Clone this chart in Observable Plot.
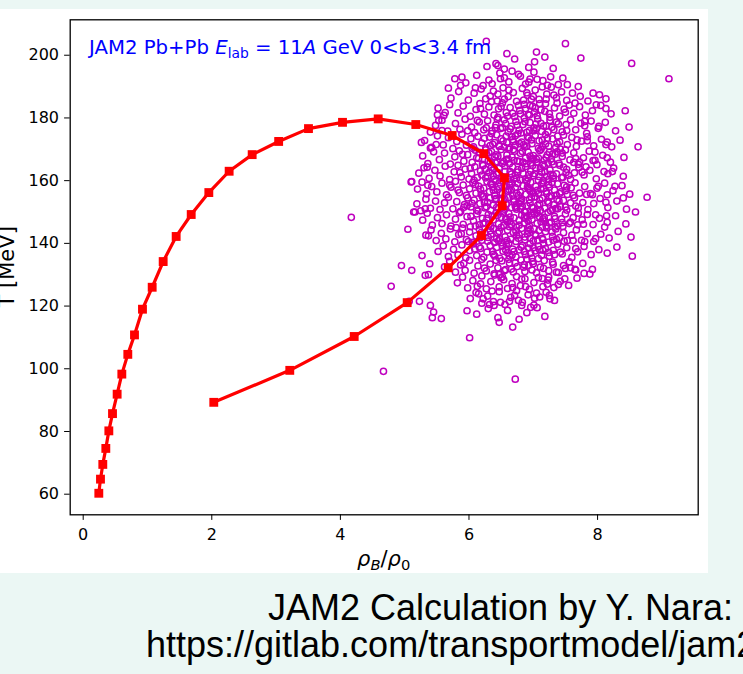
<!DOCTYPE html>
<html><head><meta charset="utf-8">
<script src="https://cdn.jsdelivr.net/npm/d3@7"></script>
<script src="https://cdn.jsdelivr.net/npm/@observablehq/plot@0.6"></script>
<style>
html,body{margin:0;padding:0;}
body{width:743px;height:674px;background:#ebf7f4;position:relative;overflow:hidden;}
#panel{position:absolute;left:0;top:9px;width:708px;height:564px;background:#fff;}
.cap{position:absolute;font-family:"Liberation Sans",Arial,sans-serif;font-size:36px;color:#000;white-space:nowrap;line-height:1;}
</style></head><body>
<div id="panel"></div>
<div class="cap" style="left:268px;top:589.5px">JAM2 Calculation by Y. Nara:</div>
<div class="cap" style="left:146px;top:626.5px">https://gitlab.com/transportmodel/jam2</div>
<script>
// ---- data ----
const xTicks = [0, 2, 4, 6, 8];
const yTicks = [60, 80, 100, 120, 140, 160, 180, 200];

// JAM2 trajectory (red squares + line)
const rhoTrack = [0.243,0.269,0.305,0.352,0.399,0.456,0.528,0.601,0.694,0.798,0.922,1.073,1.244,1.446,1.680,1.954,2.27,2.628,3.04,3.504,4.033,4.588,5.173,5.739,6.23,6.552,6.516,6.194,5.677,5.039,4.215,3.213,2.031];
const tTrack = [60.3,64.8,69.5,74.6,80.2,85.7,91.9,98.3,104.6,110.8,119.0,126.0,134.2,142.2,149.2,156.2,163.0,168.3,172.5,176.6,178.6,179.7,177.9,174.4,168.6,160.9,152.0,142.5,132.2,121.1,110.3,99.5,89.3];

// event-by-event points (open magenta circles), [rho/rho0, T]
const cloudHalo = [[6.27,204.4],[7.50,203.7],[6.59,200.5],[7.05,201.0],[7.74,199.1],[8.53,197.4],[9.11,192.5],[6.45,196.7],[6.67,194.9],[6.80,193.3],[5.89,193.0],[5.68,189.5],[5.87,190.4],[6.10,189.6],[6.36,190.9],[6.49,192.5],[6.93,191.4],[7.06,192.3],[7.22,190.4],[7.53,190.6],[7.70,190.0],[7.93,187.9],[8.03,187.4],[8.13,186.1],[7.98,184.2],[8.13,183.0],[8.43,182.3],[8.02,177.3],[8.49,177.1],[7.80,177.5],[8.15,172.3],[8.13,171.5],[8.63,170.8],[7.84,172.7],[7.96,169.1],[8.15,167.3],[7.93,166.4],[7.99,165.1],[8.23,162.9],[8.16,162.2],[8.27,158.2],[8.40,154.5],[8.77,154.7],[8.15,155.5],[8.13,153.1],[8.59,150.0],[8.14,148.8],[8.11,145.2],[8.52,142.0],[8.54,135.9],[7.92,131.7],[7.79,130.4],[7.49,128.7],[7.39,126.9],[7.25,123.4],[7.26,122.3],[4.17,148.3],[4.67,99.2],[6.72,96.7],[6.01,109.9],[6.47,114.8],[6.68,113.3],[4.79,126.3],[4.95,132.9],[5.11,131.4],[5.05,144.5],[5.10,159.6],[5.23,121.5],[5.26,172.2],[5.40,170.4],[5.37,142.4],[5.27,136.1],[5.39,133.5],[5.14,150.0],[5.35,164.3],[5.36,158.5],[5.32,151.0],[5.32,129.8],[5.40,120.2],[5.45,118.1],[5.57,116.0],[5.43,116.3],[5.97,118.5],[6.15,123.9],[6.22,122.3],[6.32,120.5],[6.39,120.2],[6.49,121.2],[6.77,121.8],[6.82,120.2],[6.96,119.6],[7.02,122.5],[5.51,181.0],[5.63,181.7],[5.53,179.2],[5.40,175.5],[5.58,176.0],[5.49,171.5],[5.11,159.7],[5.16,150.0],[5.07,121.5],[5.37,130.0],[7.97,149.1],[7.92,155.5],[8.01,158.2],[7.76,162.7],[7.72,165.9],[7.80,140.6],[7.97,141.5],[7.65,131.7],[7.58,132.2],[7.36,130.8],[7.24,129.2]];

const cloudBands = [[6.42,197.3],[6.71,198.8],[6.93,196.1],[7.18,199.4],[6.55,195.6],[7.02,197.9],[6.28,196.4],[7.31,195.8],
[5.95,191.2],[6.12,193.6],[6.31,192.1],[6.48,194.3],[6.62,191.5],[6.77,193.9],[6.88,190.8],[7.01,194.6],[7.15,191.9],[7.27,193.1],[7.39,190.6],[6.22,190.3],[6.55,192.8],[6.95,192.4],[7.46,192.7],[5.78,192.5],
[5.72,186.3],[5.84,188.4],[5.99,185.7],[6.08,187.9],[6.19,189.2],[6.26,186.1],[6.38,188.6],[6.44,185.4],[6.53,189.6],[6.61,186.8],[6.69,188.1],[6.74,185.3],[6.83,189.4],[6.91,187.2],[7.03,188.9],[7.09,185.9],[7.21,187.6],[7.28,189.8],[7.36,186.4],[7.44,188.3],[7.52,185.6],[7.61,187.9],[7.73,186.9],[6.33,187.0],[6.97,186.0],[7.14,189.9],[7.85,185.4],
[5.52,183.1],[5.61,180.8],[5.70,184.2],[5.83,181.6],[5.91,183.8],[6.02,180.5],[6.11,182.7],[6.17,184.6],[6.24,181.2],[6.31,183.5],[6.39,180.9],[6.46,182.9],[6.52,184.8],[6.58,181.7],[6.64,183.3],[6.71,180.4],[6.79,182.4],[6.86,184.3],[6.92,181.1],[6.99,183.7],[7.06,180.7],[7.12,182.6],[7.19,184.5],[7.25,181.4],[7.33,183.2],[7.41,180.6],[7.48,182.8],[7.56,184.1],[7.63,181.5],[7.72,183.6],[7.81,180.9],[7.92,182.3],[8.05,184.0],[8.21,181.3],[6.45,180.2],[6.88,183.0],[7.02,181.9],[7.37,184.7],
[5.48,177.6],[5.58,179.3],[5.67,175.8],[5.79,178.2],[5.86,176.4],[5.94,179.6],[6.04,177.1],[6.09,175.3],[6.16,178.7],[6.23,176.2],[6.29,179.1],[6.36,175.9],[6.42,177.8],[6.49,176.6],[6.55,179.4],[6.61,175.5],[6.66,177.3],[6.73,178.9],[6.78,176.1],[6.84,177.9],[6.9,175.4],[6.95,178.5],[7.01,176.8],[7.07,179.7],[7.13,175.7],[7.2,177.5],[7.26,179.2],[7.32,176.3],[7.39,178.1],[7.45,175.6],[7.51,177.9],[7.58,179.4],[7.66,176.2],[7.74,178.3],[7.83,175.1],[7.9,179.0],[8.01,176.7],[8.12,178.6],[8.28,175.9],[6.52,176.9],[6.81,175.2],[7.04,178.0],[7.29,177.0],
[5.31,172.8],[5.42,170.6],[5.51,174.3],[5.6,171.4],[5.68,173.7],[5.75,170.2],[5.81,172.5],[5.89,174.8],[5.96,171.3],[6.03,173.4],[6.07,170.8],[6.14,174.1],[6.2,172.0],[6.26,170.4],[6.32,173.9],[6.37,171.6],[6.43,174.6],[6.47,170.9],[6.53,172.7],[6.58,174.2],[6.63,170.5],[6.68,173.1],[6.72,171.2],[6.76,174.9],[6.82,172.3],[6.87,170.7],[6.93,173.6],[6.98,171.8],[7.03,174.4],[7.08,170.3],[7.14,172.9],[7.19,174.7],[7.24,171.0],[7.3,173.3],[7.35,170.6],[7.41,172.4],[7.47,174.5],[7.53,171.5],[7.6,173.8],[7.67,170.9],[7.75,172.6],[7.84,174.0],[7.94,171.1],[8.06,173.2],[8.22,170.8],[8.35,172.9],[6.4,172.1],[6.9,171.0],[7.12,170.0],[6.66,174.0],[7.38,174.2],
[5.28,167.9],[5.36,165.4],[5.45,169.2],[5.54,166.7],[5.62,168.8],[5.71,165.3],[5.78,167.6],[5.85,169.5],[5.92,166.2],[5.98,168.3],[6.05,165.8],[6.1,169.7],[6.15,167.1],[6.21,165.2],[6.27,168.6],[6.3,166.4],[6.35,169.3],[6.41,165.7],[6.45,167.8],[6.5,169.9],[6.54,166.1],[6.59,168.2],[6.63,165.4],[6.67,167.5],[6.71,169.4],[6.75,166.3],[6.8,168.7],[6.84,165.9],[6.88,167.2],[6.92,169.1],[6.96,165.6],[7.0,168.0],[7.05,166.8],[7.1,169.6],[7.15,165.1],[7.2,167.4],[7.25,169.0],[7.29,166.0],[7.34,168.4],[7.4,165.5],[7.45,167.7],[7.5,169.8],[7.57,166.6],[7.63,168.9],[7.7,165.2],[7.78,167.3],[7.87,169.4],[7.96,166.5],[8.08,168.1],[8.2,165.9],[8.41,167.4],[6.62,170.0],[6.98,166.9],[7.22,168.2],[6.44,166.0],
[5.22,162.4],[5.3,164.1],[5.38,160.7],[5.47,163.3],[5.55,161.5],[5.63,164.6],[5.7,160.3],[5.77,162.8],[5.83,164.9],[5.88,161.2],[5.94,163.7],[6.0,160.5],[6.04,162.3],[6.09,164.4],[6.13,161.0],[6.18,163.1],[6.22,164.8],[6.26,160.9],[6.31,162.6],[6.35,164.2],[6.39,160.4],[6.43,162.0],[6.47,163.9],[6.51,161.3],[6.56,164.7],[6.6,160.6],[6.64,162.9],[6.68,164.3],[6.72,161.7],[6.76,163.5],[6.8,160.2],[6.84,162.4],[6.88,164.5],[6.92,160.8],[6.96,163.0],[7.0,161.6],[7.04,164.0],[7.08,160.1],[7.13,162.7],[7.17,164.6],[7.21,161.4],[7.26,163.4],[7.31,160.7],[7.36,162.2],[7.41,164.9],[7.46,161.1],[7.52,163.6],[7.58,160.4],[7.64,162.5],[7.71,164.2],[7.79,161.8],[7.88,163.3],[7.98,160.6],[8.1,162.9],[8.25,164.0],[8.4,161.4],[6.7,160.5],[6.99,164.8],[7.24,160.3],[6.53,160.0],[7.11,163.9],
[5.2,157.3],[5.27,159.5],[5.34,155.8],[5.42,158.1],[5.5,156.4],[5.58,159.2],[5.65,155.5],[5.72,157.9],[5.79,159.8],[5.85,156.2],[5.91,158.6],[5.96,155.3],[6.01,157.4],[6.06,159.4],[6.11,156.0],[6.15,158.3],[6.19,155.7],[6.23,157.6],[6.28,159.7],[6.32,156.5],[6.36,158.8],[6.4,155.2],[6.44,157.1],[6.48,159.3],[6.52,155.9],[6.56,158.0],[6.6,156.7],[6.64,159.6],[6.68,155.4],[6.72,157.8],[6.76,159.1],[6.8,156.3],[6.84,158.4],[6.88,155.6],[6.92,157.5],[6.96,159.5],[7.0,156.1],[7.04,158.2],[7.08,155.8],[7.12,157.3],[7.16,159.9],[7.2,156.6],[7.24,158.7],[7.28,155.1],[7.33,157.0],[7.38,159.0],[7.43,156.4],[7.48,158.5],[7.53,155.6],[7.59,157.7],[7.65,159.3],[7.72,156.0],[7.8,158.1],[7.89,155.9],[7.99,157.6],[8.11,159.2],[8.24,156.8],[8.38,158.4],[8.5,155.7],[6.42,159.9],[6.74,156.0],[6.9,159.8],[7.06,156.9],[7.36,155.4],[6.62,157.2],
[5.19,152.6],[5.25,150.4],[5.33,154.1],[5.4,151.2],[5.48,153.5],[5.55,150.8],[5.62,152.9],[5.68,154.7],[5.75,151.0],[5.81,153.3],[5.87,150.2],[5.93,152.4],[5.98,154.5],[6.03,151.6],[6.08,153.8],[6.12,150.6],[6.17,152.7],[6.21,154.9],[6.25,151.3],[6.29,153.1],[6.34,150.5],[6.38,152.2],[6.42,154.3],[6.46,151.1],[6.5,153.6],[6.54,150.3],[6.58,152.5],[6.62,154.6],[6.66,151.4],[6.7,153.2],[6.74,150.9],[6.78,152.8],[6.82,154.2],[6.86,150.1],[6.9,152.0],[6.94,153.9],[6.98,151.5],[7.02,154.8],[7.06,150.7],[7.1,152.6],[7.14,154.4],[7.18,151.2],[7.22,153.4],[7.27,150.4],[7.32,152.3],[7.37,154.0],[7.42,151.7],[7.47,153.7],[7.52,150.6],[7.58,152.9],[7.64,154.5],[7.7,151.3],[7.77,153.0],[7.85,150.8],[7.94,152.7],[8.04,154.3],[8.16,151.4],[8.3,153.5],[8.45,150.9],[6.56,154.0],[6.8,151.0],[7.0,150.0],[7.25,154.8],[6.33,154.5],[6.95,152.9],
[5.28,147.4],[5.35,149.6],[5.43,145.8],[5.51,148.2],[5.58,146.3],[5.65,149.1],[5.72,145.5],[5.79,147.7],[5.85,149.8],[5.91,146.1],[5.97,148.5],[6.02,145.3],[6.07,147.2],[6.12,149.4],[6.16,145.9],[6.21,148.0],[6.25,146.6],[6.3,149.2],[6.34,145.4],[6.38,147.5],[6.42,149.7],[6.46,146.2],[6.5,148.3],[6.54,145.7],[6.58,147.9],[6.62,149.5],[6.66,146.0],[6.7,148.1],[6.74,145.2],[6.78,147.3],[6.82,149.0],[6.86,146.5],[6.9,148.7],[6.94,145.6],[6.98,147.6],[7.02,149.3],[7.06,146.4],[7.1,148.4],[7.14,145.1],[7.18,147.1],[7.23,149.9],[7.28,146.8],[7.33,148.6],[7.38,145.5],[7.44,147.8],[7.5,149.4],[7.56,146.3],[7.62,148.2],[7.69,145.9],[7.76,147.5],[7.84,149.2],[7.93,146.0],[8.03,148.0],[8.15,146.7],[8.28,148.8],[8.44,146.2],[6.64,147.0],[6.88,150.0],[7.12,146.9],[6.44,148.9],
[5.33,142.6],[5.41,144.3],[5.49,140.9],[5.57,143.2],[5.64,141.4],[5.71,144.6],[5.78,140.5],[5.84,142.8],[5.9,144.9],[5.96,141.2],[6.01,143.6],[6.06,140.3],[6.11,142.4],[6.16,144.5],[6.2,141.0],[6.25,143.3],[6.29,140.7],[6.34,142.9],[6.38,144.7],[6.43,141.5],[6.47,143.8],[6.51,140.2],[6.56,142.1],[6.6,144.2],[6.65,141.3],[6.69,143.5],[6.73,140.6],[6.78,142.7],[6.82,144.8],[6.87,141.1],[6.91,143.0],[6.95,144.4],[7.0,140.8],[7.04,142.5],[7.09,144.1],[7.14,141.6],[7.19,143.7],[7.24,140.4],[7.3,142.2],[7.35,144.6],[7.41,141.8],[7.47,143.4],[7.53,140.9],[7.6,142.6],[7.67,144.3],[7.75,141.0],[7.84,143.1],[7.94,140.6],[8.05,142.9],[8.18,141.7],[8.32,143.8],[6.62,140.0],[6.92,145.0],[7.16,140.0],[6.4,140.3],
[5.52,137.4],[5.6,139.2],[5.68,135.8],[5.76,138.1],[5.83,136.3],[5.89,139.5],[5.95,135.4],[6.01,137.7],[6.07,139.8],[6.12,136.1],[6.18,138.4],[6.23,135.6],[6.28,137.2],[6.33,139.3],[6.38,136.5],[6.43,138.7],[6.48,135.2],[6.53,137.5],[6.58,139.6],[6.63,136.0],[6.68,138.2],[6.73,135.7],[6.78,137.9],[6.83,139.4],[6.88,136.4],[6.93,138.5],[6.98,135.3],[7.03,137.6],[7.08,139.1],[7.13,136.2],[7.19,138.3],[7.25,135.9],[7.31,137.8],[7.38,139.7],[7.45,136.6],[7.52,138.6],[7.6,135.5],[7.69,137.3],[7.79,139.0],[7.9,136.4],[8.02,138.0],[8.15,136.9],[8.3,138.8],[6.6,137.0],[6.95,139.9],
[5.62,132.5],[5.7,134.3],[5.79,130.8],[5.87,133.1],[5.94,131.4],[6.01,134.6],[6.08,130.5],[6.14,132.8],[6.2,134.9],[6.27,131.2],[6.33,133.4],[6.39,130.3],[6.45,132.2],[6.51,134.4],[6.57,131.6],[6.63,133.7],[6.69,130.9],[6.75,132.6],[6.81,134.7],[6.87,131.0],[6.93,133.0],[6.99,134.2],[7.05,130.6],[7.11,132.4],[7.17,134.5],[7.24,131.3],[7.31,133.3],[7.39,130.7],[7.47,132.9],[7.56,134.1],[7.66,131.5],[7.77,133.6],[7.88,130.2],[6.47,130.0],[6.9,135.0],
[5.82,127.4],[5.9,129.2],[5.98,125.8],[6.06,128.1],[6.13,126.3],[6.2,129.6],[6.27,125.5],[6.34,127.8],[6.4,129.9],[6.47,126.1],[6.54,128.4],[6.6,125.6],[6.67,127.2],[6.74,129.4],[6.8,126.5],[6.87,128.7],[6.94,125.3],[7.01,127.5],[7.08,129.1],[7.15,126.2],[7.23,128.3],[7.32,125.9],[7.42,127.9],[7.55,126.6],[7.68,128.9],
[6.02,122.4],[6.11,124.3],[6.2,120.9],[6.29,123.2],[6.38,121.4],[6.47,124.6],[6.56,120.5],[6.65,122.8],[6.74,124.9],[6.83,121.2],[6.92,123.6],[7.01,120.3],[7.1,122.9],[7.2,124.4],[7.33,121.8],
[6.12,117.4],[6.3,119.2],[6.45,116.3],[6.6,118.6],[6.78,115.8],[6.9,117.9],[7.06,119.5],[7.18,116.7]];

const cloudDense = [[6.31,168.9],[6.47,171.2],[6.58,166.8],[6.69,172.4],[6.83,169.3],[6.97,173.0],[7.08,167.2],[7.19,171.7],[7.3,168.5],[6.25,163.7],[6.38,161.4],[6.52,165.5],[6.66,162.1],[6.78,166.1],[6.93,161.9],[7.05,165.9],[7.18,162.8],[7.32,165.2],[7.44,160.9],[6.18,157.2],[6.34,159.0],[6.49,156.2],[6.63,158.6],[6.77,155.3],[6.91,158.0],[7.03,154.9],[7.16,157.5],[7.29,159.4],[7.41,155.9],[6.27,151.7],[6.41,153.9],[6.55,150.9],[6.69,154.1],[6.83,151.8],[6.97,154.6],[7.11,150.5],[7.24,152.9],[7.38,151.0],[6.22,146.3],[6.36,148.7],[6.5,145.1],[6.64,148.4],[6.78,145.8],[6.92,147.2],[7.06,149.6],[7.2,145.6],[7.34,147.9],[6.3,141.9],[6.45,143.2],[6.59,140.9],[6.73,143.9],[6.87,142.0],[7.01,144.6],[7.15,141.2],[7.29,143.6],[6.37,137.4],[6.52,139.1],[6.67,136.3],[6.81,138.8],[6.96,136.9],[7.1,138.0],[7.24,137.1],[6.41,176.9],[6.57,178.2],[6.72,174.3],[6.87,178.8],[7.01,175.9],[7.16,177.4],[6.5,183.6],[6.68,181.5],[6.85,185.7],[7.03,183.1],[7.2,186.0],[6.24,173.5],[7.45,168.8],[7.55,161.7],[7.62,155.3],[7.58,146.8],[7.48,140.7],[6.12,167.3],[6.08,160.1],[6.05,152.8],[6.1,145.5],[6.16,138.9]];

const cloudCore = [[6.35,175.0],[6.5,173.3],[6.64,176.5],[6.79,171.8],[6.94,176.0],[7.09,172.7],[7.23,175.6],[7.37,171.9],[6.26,169.8],[6.4,167.6],[6.55,170.7],[6.7,166.4],[6.85,171.4],[7.0,167.0],[7.14,170.8],[7.28,166.9],[7.42,170.1],[6.2,161.8],[6.33,165.9],[6.46,162.5],[6.61,166.9],[6.74,160.8],[6.89,165.4],[7.02,162.2],[7.17,166.5],[7.31,161.6],[7.47,164.3],[6.23,155.0],[6.37,157.9],[6.51,154.3],[6.66,157.0],[6.81,153.6],[6.95,156.8],[7.1,153.9],[7.25,157.9],[7.4,153.5],[7.52,158.0],[6.28,148.0],[6.43,151.4],[6.57,147.6],[6.72,151.9],[6.86,148.2],[7.0,151.3],[7.15,147.8],[7.3,150.8],[7.45,146.6],[6.33,144.0],[6.48,141.4],[6.63,145.3],[6.77,141.6],[6.92,144.0],[7.07,140.9],[7.21,144.9],[7.36,141.3],[6.42,134.6],[6.57,138.0],[6.72,133.8],[6.86,137.4],[7.0,133.5],[7.15,137.8],[7.3,134.0],[6.5,129.0],[6.66,131.8],[6.82,128.6],[6.98,131.5],[7.14,128.8],[6.6,180.6],[6.77,184.0],[6.94,180.9],[7.1,184.6],[7.26,180.2],[6.45,187.6],[6.9,188.0],[5.7,158.6],[5.86,162.6],[5.92,151.5],[5.8,145.0],[5.99,140.6],[6.05,170.3],[6.14,150.3],[6.19,143.4],[6.39,163.8],[6.58,152.6],[6.76,162.7],[6.97,149.0],[7.13,159.0],[7.34,145.2],[7.5,151.6],[7.42,137.2],[7.63,165.8],[7.7,149.6],[6.86,133.2],[6.68,125.9],[6.95,183.9],[6.55,186.0]];

const cloudCore2 = [[6.18,183.0],[6.35,185.2],[6.62,188.9],[6.8,181.3],[7.0,186.8],[7.18,182.1],[7.32,187.3],[7.5,181.8],[7.65,184.7],
[5.98,175.9],[6.13,179.2],[6.27,176.8],[6.44,179.6],[6.59,172.1],[6.75,177.7],[6.91,174.0],[7.05,176.6],[7.22,173.5],[7.36,178.7],[7.52,176.0],[7.68,173.0],[7.8,178.9],[6.33,171.2],[6.86,180.0],[7.12,178.3],
[5.9,168.4],[6.02,163.9],[6.16,169.0],[6.29,161.3],[6.42,168.2],[6.56,163.0],[6.69,169.9],[6.82,163.9],[6.95,167.8],[7.09,161.3],[7.23,165.6],[7.37,169.2],[7.51,162.6],[7.66,167.0],[7.82,164.4],[6.36,163.3],[6.88,160.4],[7.27,162.0],
[5.83,157.0],[5.97,152.0],[6.1,158.8],[6.24,153.0],[6.38,156.9],[6.53,151.8],[6.67,159.1],[6.8,153.2],[6.94,157.3],[7.07,152.2],[7.21,155.9],[7.35,151.1],[7.5,156.8],[7.66,151.9],[7.83,155.6],[6.46,158.2],[6.73,151.4],[7.15,159.3],
[5.88,143.1],[6.03,148.6],[6.17,141.8],[6.31,146.0],[6.46,140.8],[6.6,146.8],[6.74,142.6],[6.88,147.9],[7.03,142.9],[7.17,148.2],[7.31,141.0],[7.46,145.4],[7.62,140.9],[7.78,146.1],[6.53,149.6],[6.95,141.7],[7.25,146.5],
[5.92,133.6],[6.09,138.2],[6.24,132.1],[6.4,136.0],[6.55,131.3],[6.7,137.4],[6.85,132.4],[7.0,138.6],[7.16,132.0],[7.33,136.4],[7.5,132.0],[7.66,138.3],[6.62,134.9],[7.08,135.1],
[6.18,127.1],[6.36,124.8],[6.52,129.3],[6.71,123.4],[6.88,126.2],[7.05,124.1],[7.22,127.0],[6.63,121.5]];

// ---- chart ----
const track = rhoTrack.map((r, i) => ({rho: r, T: tTrack[i]}));
const cloud = [...cloudHalo, ...cloudBands, ...cloudDense, ...cloudCore, ...cloudCore2].map(([rho, T]) => ({rho, T}));

const W = 708, H = 564;
const chart = Plot.plot({
  width: W, height: H,
  marginLeft: 69.7, marginRight: 10.3, marginTop: 10.3, marginBottom: 58.7,
  style: {fontFamily: "'DejaVu Sans', sans-serif", fontSize: "16px", color: "#000", background: "white", overflow: "visible"},
  x: {domain: [-0.202, 9.565]},
  y: {domain: [53.43, 211.3]},
  marks: [
    Plot.dot(cloud, {x: "rho", y: "T", r: 3.1, stroke: "#bf00bf", strokeWidth: 1.5, fill: "none"}),
    Plot.line(track, {x: "rho", y: "T", stroke: "#ff0000", strokeWidth: 3.2}),
    Plot.dot(track, {x: "rho", y: "T", symbol: "square", fill: "#ff0000", r: 5}),
    Plot.axisX({ticks: xTicks, tickSize: 5.6, tickPadding: 8, label: null, fontSize: 16}),
    Plot.axisY({ticks: yTicks, tickSize: 5.6, tickPadding: 5.6, label: null, fontSize: 16}),
    Plot.frame({stroke: "#000", strokeWidth: 1.3})
  ]
});
document.getElementById("panel").appendChild(chart);

const svg = d3.select(chart);
// annotation
const ann = svg.append("text")
  .attr("x", 89).attr("y", 45.3)
  .attr("text-anchor", "start")
  .attr("fill", "#0000ff").attr("font-size", 19.7)
  .attr("font-family", "'DejaVu Sans', sans-serif")
  .style("white-space", "pre");
ann.append("tspan").text("JAM2 Pb+Pb ");
ann.append("tspan").attr("font-style", "italic").text("E");
ann.append("tspan").attr("font-size", 13.8).attr("dy", 4).text("lab");
ann.append("tspan").attr("dy", -4).text(" = 11");
ann.append("tspan").attr("font-style", "italic").text("A");
ann.append("tspan").text(" GeV 0<b<3.4 fm");

// x label
const xl = svg.append("text")
  .attr("x", 383.7).attr("y", 557)
  .attr("text-anchor", "middle").attr("font-size", 21)
  .attr("font-family", "'DejaVu Sans', sans-serif").attr("fill", "#000");
xl.append("tspan").attr("font-style", "italic").text("ρ");
xl.append("tspan").attr("font-style", "italic").attr("font-size", 14.7).attr("dy", 4).text("B");
xl.append("tspan").attr("dy", -4).text("/");
xl.append("tspan").attr("font-style", "italic").text("ρ");
xl.append("tspan").attr("font-size", 14.7).attr("dy", 4).text("0");

// y label
svg.append("text")
  .attr("transform", "translate(14,257.8) rotate(-90)")
  .attr("text-anchor", "middle").attr("font-size", 21)
  .attr("font-family", "'DejaVu Sans', sans-serif").attr("fill", "#000")
  .text("T [MeV]");
</script>
</body></html>
